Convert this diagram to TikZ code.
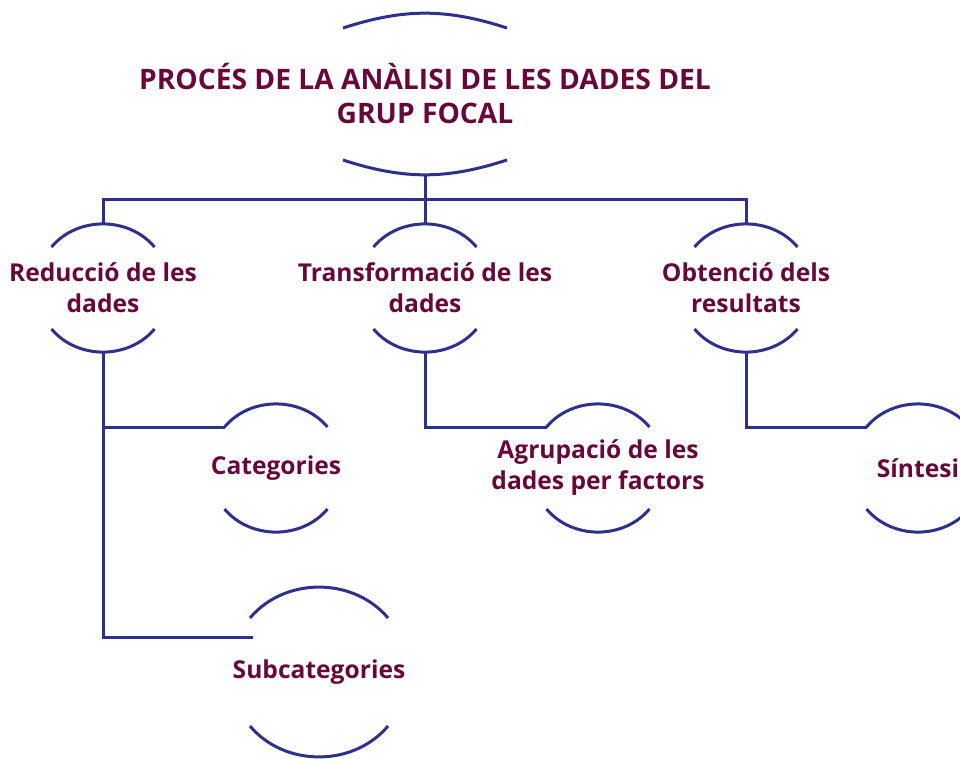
\documentclass[tikz,border=0pt]{standalone}
\usepackage{fontspec}
\setmainfont{Open Sans}
\usepackage{tikz}
\usetikzlibrary{
  calc,
  positioning,
}

\definecolor{lineblue}{RGB}{46,49,140}
\definecolor{wine}{RGB}{104,8,58}

\tikzset{
  arcline/.style={draw=lineblue, line width=3pt},
  linkline/.style={draw=lineblue, line width=3pt},
  steptext/.style={text=wine, font=\fontsize{24.6}{31}\selectfont\bfseries,
    align=center, inner sep=0pt},
}

% top and bottom arc round a node: name, half width, half gap, bend
\newcommand{\nodearcs}[4]{%
  \draw [arcline] ($(#1)+(-#2pt,#3pt)$) coordinate (#1-tl)
    to [bend left=#4] coordinate [pos=0.5] (#1-top) ($(#1)+(#2pt,#3pt)$);
  \draw [arcline] ($(#1)+(-#2pt,-#3pt)$)
    to [bend right=#4] coordinate [pos=0.5] (#1-bot) ($(#1)+(#2pt,-#3pt)$);
}

\begin{document}
\begin{tikzpicture}[on grid]
              \useasboundingbox (0,0) rectangle (960pt,-758pt);
              \node [steptext, font=\fontsize{28.2}{34}\selectfont\bfseries] (title) at (425pt,-94pt)
                {PROCÉS DE LA ANÀLISI DE LES DADES DEL\\GRUP FOCAL};
              \node [steptext, below = 194pt of title] (trans) {Transformació de les\\dades};
              \node [steptext, left = 322pt of trans] (red) {Reducció de les\\dades};
              \node [steptext, right = 321pt of trans] (obt) {Obtenció dels\\resultats};
              \node [steptext, below right = 180pt and 173pt of red] (cat) {Categories};
              \node [steptext, below right = 384pt and 216pt of red] (sub) {Subcategories};
              \node [steptext, below right = 180pt and 173pt of trans] (agr) {Agrupació de les\\dades per factors};
              \node [steptext, below right = 180pt and 172pt of obt] (sin) {Síntesi};
              \nodearcs{title}{82}{66}{18}
              \nodearcs{red}{51.5}{41}{50}
              \nodearcs{trans}{51.5}{41}{50}
              \nodearcs{obt}{51.5}{41}{50}
              \nodearcs{cat}{51.5}{41}{50}
              \nodearcs{agr}{51.5}{41}{50}
              \nodearcs{sin}{51.5}{41}{50}
              \nodearcs{sub}{69}{54}{50}
              \coordinate (bus) at (0,-199pt);
              \coordinate (sub-in) at ($(sub)+(-66pt,35pt)$);
              \draw [linkline] (title-bot) -- (trans-top);
              \draw [linkline] (red-top) -- (red-top |- bus) -| (obt-top);
              \draw [linkline] (red-bot) |- (cat-tl);
              \draw [linkline] (red-bot) |- (sub-in);
              \draw [linkline] (trans-bot) |- (agr-tl);
              \draw [linkline] (obt-bot) |- (sin-tl);
            \end{tikzpicture}
\end{document}
